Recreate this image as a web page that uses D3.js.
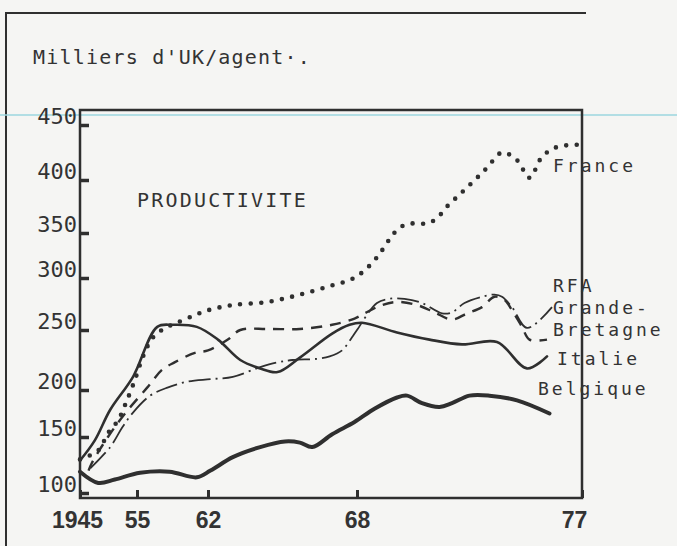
<!DOCTYPE html>
<html>
<head>
<meta charset="utf-8">
<script src="https://cdn.jsdelivr.net/npm/d3@7"></script>
<style>
  body { margin: 0; background: #f5f5f3; }
  svg { display: block; }
  .mono { font-family: "DejaVu Sans Mono", monospace; fill: #333; }
</style>
</head>
<body>
<div id="chart"></div>
<script>
// values, [year, thousands of UK per worker]
const france = [[1945,130],[1948.2,138],[1949.9,154],[1951.7,168],[1952.9,184],[1954.6,208],[1955.6,228],
  [1956.5,243],[1957.6,251],[1958.7,256],[1960.4,263],[1962,269],[1963,274],[1964.4,277],[1965.7,284],
  [1967,293],[1967.7,298],[1968.2,306],[1968.8,323],[1969.3,343],[1969.7,355],[1970.2,359],[1970.8,359],
  [1971.2,364],[1971.6,375],[1972,384],[1972.4,393],[1972.8,402],[1973.2,411],[1973.8,425],[1974.4,418],
  [1974.9,402],[1975.4,421],[1976,430],[1976.9,432]];
const rfa = [[1946.8,122],[1950.3,141],[1952.4,160],[1954.3,176],[1956.3,194],[1958,202],[1960,207],
  [1962.1,209],[1963,211],[1964.1,219],[1964.8,223],[1965.4,225],[1966.4,226],[1966.9,228],[1967.4,233],
  [1967.8,244],[1968,250],[1968.8,276],[1969.3,280],[1969.9,280],[1970.6,276],[1971.4,266],[1971.8,267],
  [1972.3,276],[1973,282],[1973.5,284],[1973.8,282],[1974.2,272],[1974.8,252],[1975.8,272]];
const grandeBretagne = [[1946.5,120],[1947.1,127],[1949.9,150],[1952.9,175],[1956,202],[1957.5,217],
  [1958.7,223],[1960.7,231],[1962,233],[1962.8,242],[1963.3,250],[1964.4,251],[1965.7,251],[1967,255],
  [1967.9,261],[1968.3,266],[1969,274],[1969.6,277],[1970.4,274],[1971.1,267],[1971.8,260],[1972.4,266],
  [1973,272],[1973.5,282],[1973.9,279],[1974.2,269],[1974.6,253],[1974.9,242],[1975.6,242]];
const italie = [[1945,129],[1947.6,147],[1950.3,179],[1954.3,211],[1957,253],[1958.5,255],[1960.9,253],
  [1962.4,242],[1963.3,225],[1964.1,218],[1964.8,215],[1965.7,227],[1967,247],[1967.7,255],[1968.2,257],
  [1969.6,248],[1970.9,242],[1972.2,238],[1973.6,240],[1974.8,218],[1975.6,228]];
const belgique = [[1945,119],[1948.2,109],[1951.1,112],[1955.3,118],[1958.2,119],[1960.9,114],[1962.1,120],
  [1963,132],[1964.1,141],[1965.1,146],[1965.7,145],[1966.2,141],[1967,153],[1967.9,166],[1968.7,180],
  [1969.6,192],[1970,194],[1970.6,186],[1971.3,182],[1971.8,186],[1972.5,194],[1973.3,194],[1974.4,189],
  [1975.7,175]];

const xTicks = [1945, 1955, 1962, 1968, 1977];
const xTickLabels = ["1945", "55", "62", "68", "77"];
const yTicks = [100, 150, 200, 250, 300, 350, 400, 450];

const width = 677, height = 546;
const ink = "#2f2f2f";

const svg = d3.select("#chart").append("svg")
  .attr("width", width)
  .attr("height", height);

// the printed axes are hand drawn and not evenly spaced
const x = d3.scaleLinear().domain(xTicks).range([80, 137, 208, 357, 582]);
const y = d3.scaleLinear().domain(yTicks).range([493, 437, 390, 330, 278, 233, 180, 125]);
const plotTop = 110, plotBottom = 498;

// page frame + the cyan rule of the scan
svg.append("path")
  .attr("d", `M6,${height} V13 H586`)
  .attr("fill", "none").attr("stroke", ink).attr("stroke-width", 2);
svg.append("line")
  .attr("x1", 0).attr("x2", width).attr("y1", 115).attr("y2", 115)
  .attr("stroke", "#9bd6df").attr("stroke-width", 1.5);

svg.append("text").attr("class", "mono")
  .attr("x", 33).attr("y", 64)
  .style("font-size", "20px").style("letter-spacing", "1.2px")
  .text("Milliers d'UK/agent·.");

// plot box
svg.append("rect")
  .attr("x", x(1945)).attr("y", plotTop)
  .attr("width", x(1977) - x(1945)).attr("height", plotBottom - plotTop)
  .attr("fill", "none").attr("stroke", ink).attr("stroke-width", 2.5);

const yAxis = svg.append("g")
  .attr("transform", `translate(${x(1945)},0)`)
  .call(d3.axisLeft(y).tickValues(yTicks).tickSize(-9).tickPadding(4));
yAxis.select(".domain").remove();
yAxis.selectAll(".tick line").attr("stroke", ink).attr("stroke-width", 3.5);
yAxis.selectAll(".tick text")
  .attr("class", "mono").attr("dy", "-0.05em")
  .style("font-size", "22px").attr("x", -3);

const xAxis = svg.append("g")
  .attr("transform", `translate(0,${plotBottom})`)
  .call(d3.axisBottom(x).tickValues(xTicks).tickSize(-8).tickPadding(14)
    .tickFormat((d, i) => xTickLabels[i]));
xAxis.select(".domain").remove();
xAxis.selectAll(".tick line").attr("stroke", ink).attr("stroke-width", 3);
xAxis.selectAll(".tick text")
  .style("font-family", "'Liberation Sans Narrow', 'Liberation Sans', sans-serif")
  .style("font-weight", "bold").style("font-size", "23px")
  .attr("fill", "#333")
  .attr("dx", (d, i) => i === 0 ? -3 : (i === 4 ? -8 : 0));

const line = d3.line()
  .x(d => x(d[0]))
  .y(d => y(d[1]))
  .curve(d3.curveCatmullRom.alpha(0.5));

const series = [
  { name: "France", data: france, w: 4.6, dash: "0,10.5", cap: "round" },
  { name: "RFA", data: rfa, w: 1.8, dash: "22,5,2,5", cap: "butt" },
  { name: "Grande-Bretagne", data: grandeBretagne, w: 2.4, dash: "11,8", cap: "butt" },
  { name: "Italie", data: italie, w: 2.6, dash: null, cap: "round" },
  { name: "Belgique", data: belgique, w: 4, dash: null, cap: "round" }
];

svg.selectAll(".series")
  .data(series)
  .enter()
  .append("path")
  .attr("class", "series")
  .attr("d", d => line(d.data))
  .attr("fill", "none")
  .attr("stroke", ink)
  .attr("stroke-width", d => d.w)
  .attr("stroke-linecap", d => d.cap)
  .attr("stroke-linejoin", "round")
  .attr("stroke-dasharray", d => d.dash);

// labels on the right, as printed
const labels = [
  { t: "France", x: 553, y: 166 },
  { t: "RFA", x: 553, y: 286 },
  { t: "Grande-", x: 553, y: 308 },
  { t: "Bretagne", x: 553, y: 330 },
  { t: "Italie", x: 557, y: 359 },
  { t: "Belgique", x: 538, y: 389 }
];
svg.selectAll(".lab")
  .data(labels)
  .enter()
  .append("text")
  .attr("class", "mono lab")
  .attr("x", d => d.x).attr("y", d => d.y)
  .attr("dy", "0.35em")
  .style("font-size", "18px").style("letter-spacing", "3px")
  .text(d => d.t);

svg.append("text").attr("class", "mono")
  .attr("x", 137).attr("y", 200).attr("dy", "0.35em")
  .style("font-size", "20px").style("letter-spacing", "2.2px")
  .text("PRODUCTIVITE");
</script>
</body>
</html>
